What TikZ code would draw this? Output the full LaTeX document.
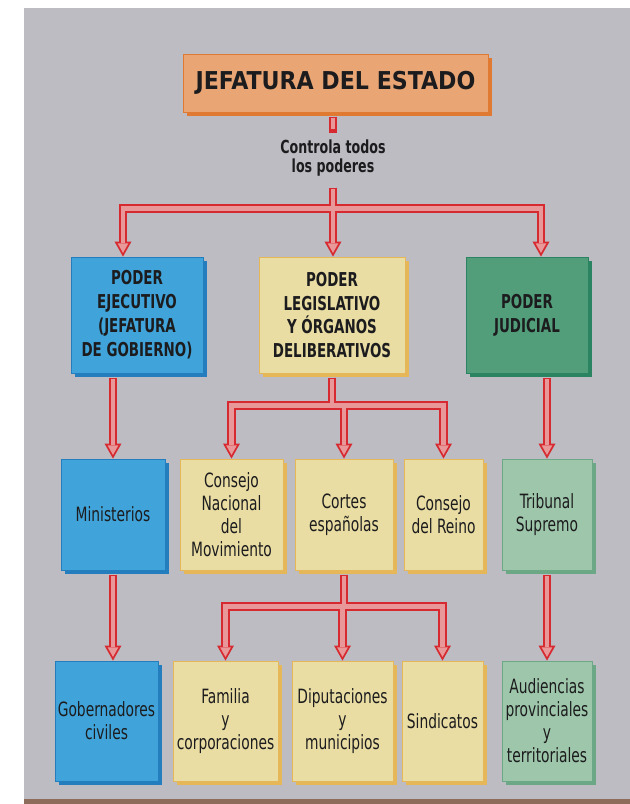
\documentclass[tikz,border=0pt]{standalone}
\usepackage{fontspec}
\usepackage{xcolor}
\usepackage{tikz}
\usetikzlibrary{arrows.meta,shadows}
\newfontfamily\condfont{DejaVu Sans Condensed}[FakeStretch=0.78,BoldFont={DejaVu Sans Condensed Bold}]
\newfontfamily\titlefont{DejaVu Sans Condensed Bold}
\def\pxu{0.025cm}
\definecolor{paper}{RGB}{188,188,194}
\definecolor{strip}{RGB}{142,108,92}
\definecolor{ink}{RGB}{28,28,30}
\definecolor{fillorange}{RGB}{233,166,116}
\definecolor{edgeorange}{RGB}{224,121,50}
\definecolor{fillblue}{RGB}{64,164,218}
\definecolor{edgeblue}{RGB}{36,126,190}
\definecolor{fillyel}{RGB}{233,221,163}
\definecolor{edgeyel}{RGB}{229,183,88}
\definecolor{fillgreen}{RGB}{82,158,122}
\definecolor{edgegreen}{RGB}{42,132,98}
\definecolor{filllgreen}{RGB}{158,198,170}
\definecolor{edgelgreen}{RGB}{108,168,134}
\definecolor{rimred}{RGB}{214,42,48}
\definecolor{corepink}{RGB}{232,152,152}

\begin{document}
\begin{tikzpicture}[x=\pxu,y=-\pxu]
    \tikzstyle{box}=[rectangle,inner sep=2pt,align=center,line width=0.6pt,text=ink,
        fill=fill#1,draw=edge#1,
        general shadow={fill=edge#1,shadow xshift=3pt,shadow yshift=-3pt}]
    \tikzstyle{head font}=[font=\condfont\bfseries\fontsize{13.6}{17}\selectfont]
    \tikzstyle{body font}=[font=\condfont\fontsize{14}{16.4}\selectfont]

    % Background sheet
    \useasboundingbox (0,0) rectangle (630,804);
    \fill[paper] (24,8) rectangle (630,799);
    \fill[strip] (24,799) rectangle (630,804);

    % Draw the head of state
    \node[box=orange,font=\titlefont\fontsize{17.5}{20}\selectfont,
        minimum width=305*\pxu,minimum height=58*\pxu] (jefe) at (335.5,83) {JEFATURA DEL ESTADO};
    \node[font=\condfont\bfseries\fontsize{12.8}{13.5}\selectfont,text=ink,align=center,
        inner sep=0pt,minimum height=50*\pxu] (ctrl) at (333,158) {Controla todos\\los poderes};

    % Draw the three powers
    \foreach \name/\x/\w/\col/\txt in {ejec/137/132/blue/{PODER\\EJECUTIVO\\(JEFATURA\\DE GOBIERNO)},
        legis/332/146/yel/{PODER\\LEGISLATIVO\\Y ÓRGANOS\\DELIBERATIVOS},
        judic/527/122/green/{PODER\\JUDICIAL}}
        \node[box=\col,head font,minimum width=\w*\pxu,minimum height=116*\pxu] (\name) at (\x,315) {\txt};

    % Draw the second level
    \foreach \name/\x/\w/\col/\txt in {minis/113/104/blue/Ministerios,
        cnm/231.5/103/yel/{Consejo\\Nacional\\del\\Movimiento},
        cortes/344/98/yel/{Cortes\\españolas},
        creino/443.5/79/yel/{Consejo\\del Reino},
        tribu/547/90/lgreen/{Tribunal\\Supremo}}
        \node[box=\col,body font,minimum width=\w*\pxu,minimum height=111*\pxu] (\name) at (\x,514.5) {\txt};

    % Draw the third level
    \foreach \name/\x/\w/\col/\txt in {gober/106.5/103/blue/{Gobernadores\\civiles},
        famil/225.5/105/yel/{Familia\\y\\corporaciones},
        diput/342.5/101/yel/{Diputaciones\\y\\municipios},
        sindi/442.5/81/yel/Sindicatos,
        audie/547/90/lgreen/{Audiencias\\provinciales\\y\\territoriales}}
        \node[box=\col,body font,minimum width=\w*\pxu,minimum height=120*\pxu] (\name) at (\x,721) {\txt};

    % Connect the boxes: red rim first, pink core on top
    \foreach \lw/\col/\tl/\tw/\sa/\sb in {6pt/rimred/10.7pt/12.1pt/3pt/0pt,3.4pt/corepink/6.8pt/7.6pt/4.3pt/2.6pt}
    {
        \begin{scope}[line width=\lw,color=\col,shorten <=\sa,shorten >=\sb,
            tip/.style={-{Triangle[length=\tl,width=\tw,line width=0pt]}}]
            \draw (ctrl.north |- jefe.south) -- (ctrl.north);
            \draw[tip] (ctrl.south) -- ++(0,25) -| ([shift={(-14,0)}]ejec.north);
            \draw[tip] (ctrl.south) -- (ctrl.south |- legis.north);
            \draw[tip] (ctrl.south) -- ++(0,25) -| ([shift={(14,0)}]judic.north);

            \draw[tip] (minis.north |- ejec.south) -- (minis.north);
            \foreach \dest in {cnm,cortes,creino}
                \draw[tip] (legis.south) -- ++(0,32) -| (\dest.north);
            \draw[tip] (tribu.north |- judic.south) -- (tribu.north);

            \draw[tip] (minis.south) -- (minis.south |- gober.north);
            \foreach \dest in {famil,diput,sindi}
                \draw[tip] (cortes.south) -- ++(0,36) -| (\dest.north);
            \draw[tip] (tribu.south) -- (audie.north);
        \end{scope}
    }
\end{tikzpicture}
\end{document}
